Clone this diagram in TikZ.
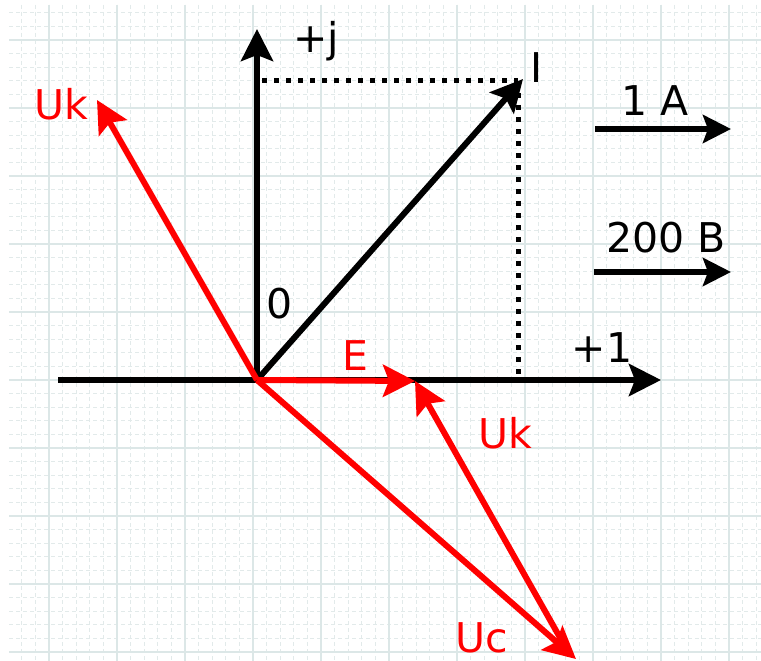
\documentclass[tikz,border=0pt]{standalone}
\usepackage{fontspec}
\setmainfont{DejaVu Sans}
\usetikzlibrary{arrows.meta}
\definecolor{gmaj}{HTML}{DCE7E7}
\definecolor{gmin}{HTML}{E2EAEA}
\definecolor{vred}{HTML}{FF0000}
\begin{document}
\begin{tikzpicture}[x=1pt,y=-1pt,
  minorline/.style={gmin,line width=0.9pt,dash pattern=on 4pt off 3pt},
  majorline/.style={gmaj,line width=1.4pt},
  vec/.style={line width=6pt,-{Stealth[length=32pt,width=32pt,inset=6pt]}},
  scalevec/.style={black,line width=6pt,-{Stealth[length=28pt,width=28pt,inset=5pt]}},
  blackvec/.style={vec,black},
  redvec/.style={vec,vred},
  dotline/.style={black,line width=5pt,dash pattern=on 5pt off 7pt},
  lbl/.style={font=\fontsize{41}{48}\selectfont,inner sep=0pt,anchor=base},
  redlbl/.style={lbl,text=vred}]
\useasboundingbox (0,0) rectangle (761,661);
\fill[white] (0,0) rectangle (761,661);
% grid
\foreach \k in {1,...,55}{\pgfmathsetmacro\xx{8.2+13.6*\k}\draw[minorline] (\xx,5) -- (\xx,661);}
\foreach \k in {0,...,47}{\pgfmathsetmacro\yy{12.8+13.6*\k}\draw[minorline] (9,\yy) -- (761,\yy);}
\foreach \k in {0,...,10}{\pgfmathsetmacro\xx{49+68*\k}\draw[majorline] (\xx,5) -- (\xx,661);}
\foreach \k in {0,...,9}{\pgfmathsetmacro\yy{40+68*\k}\draw[majorline] (9,\yy) -- (761,\yy);}
% points
\coordinate (O) at (257,380);
\coordinate (Ob) at (257,383);
\coordinate (xs) at (58,380);
\coordinate (xe) at (661,380);
\coordinate (ye) at (257,29);
\coordinate (I) at (523,79);
\coordinate (Ij) at (262,81);
\coordinate (Ic) at (518,81);
\coordinate (Ir) at (518,380);
\coordinate (Uk1) at (97,100);
\coordinate (E) at (415,381);
\coordinate (Uc) at (576,659);
\coordinate (Ukb) at (567,650);
\coordinate (a1s) at (595,129);
\coordinate (a1e) at (731,129);
\coordinate (a2s) at (594,272);
\coordinate (a2e) at (731,272);
% dotted projections
\draw[dotline] (Ij) -- (Ic);
\draw[dotline] (Ic) -- (Ir);
% axes
\draw[blackvec] (xs) -- (xe);
\draw[blackvec] (Ob) -- (ye);
\draw[blackvec] (O) -- (I);
% scale arrows
\draw[scalevec] (a1s) -- (a1e);
\draw[scalevec] (a2s) -- (a2e);
% red vectors
\draw[redvec] (O) -- (Uk1);
\draw[redvec] (O) -- (E);
\draw[redvec] (O) -- (Uc);
\draw[redvec] (Ukb) -- (E);
% labels
\node[lbl] (lj) at (316,53) {+j};
\node[lbl] (lI) at (537,82) {I};
\node[lbl] (l0) at (280,318) {0};
\node[lbl] (l1) at (602,362) {+1};
\node[lbl] (lA) at (655,116) {1 A};
\node[lbl] (lB) at (666,252) {200 B};
\node[redlbl] (lUk1) at (61,119) {Uk};
\node[redlbl] (lE) at (355,370) {E};
\node[redlbl] (lUk2) at (505,448) {Uk};
\node[redlbl] (lUc) at (482,652) {Uc};
\end{tikzpicture}
\end{document}
